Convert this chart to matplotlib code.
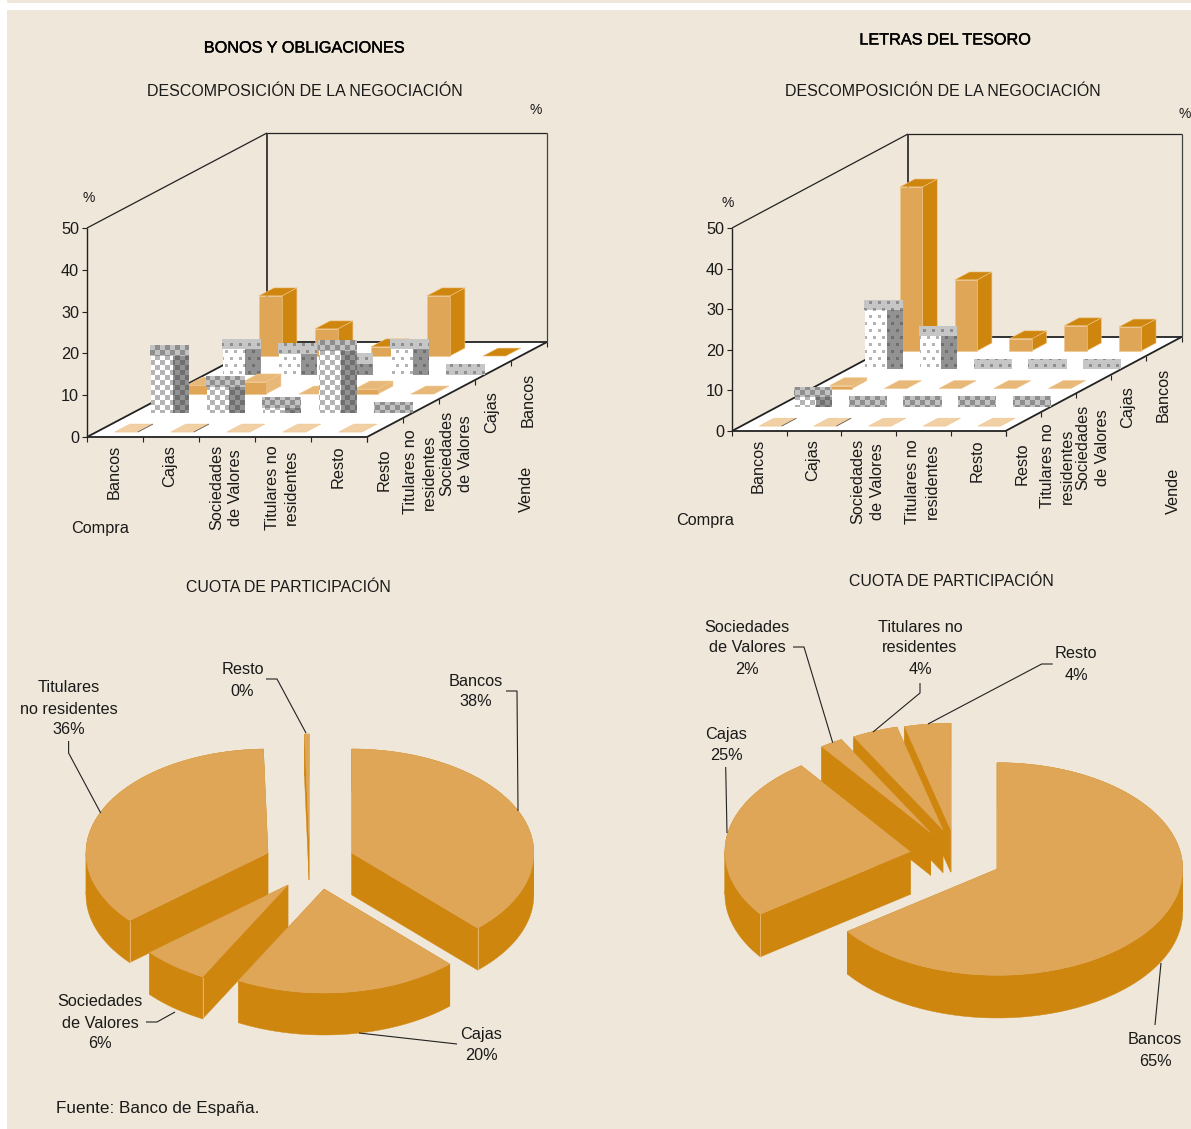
import numpy as np
import matplotlib
matplotlib.use('Agg')
import matplotlib.pyplot as plt
import matplotlib.patheffects as pe
from matplotlib.patches import Polygon, Rectangle

plt.rcParams['font.family'] = ['Liberation Sans', 'DejaVu Sans']

compra = ['Bancos', 'Cajas', 'Sociedades\nde Valores', 'Titulares no\nresidentes', 'Resto']
vende = ['Resto', 'Titulares no\nresidentes', 'Sociedades\nde Valores', 'Cajas', 'Bancos']
y_ticks = [0, 10, 20, 30, 40, 50]

# negociacion, one list per selling sector, same order as compra
bonos_resto = [0, 0, 0, 0, 0]
bonos_titulares = [13.6, 6.2, 1.2, 14.8, 0]
bonos_sociedades = [2.1, 2.9, 0, 1.2, 0]
bonos_cajas = [6.0, 5.0, 2.6, 6.0, 0]
bonos_bancos = [14.4, 6.5, 2.2, 14.4, 0]

letras_resto = [0, 0, 0, 0, 0]
letras_titulares = [2.4, 0, 0, 0, 0]
letras_sociedades = [0.7, 0, 0, 0, 0]
letras_cajas = [14.5, 8.1, 0, 0, 0]
letras_bancos = [40.4, 17.5, 3.0, 6.2, 5.9]

# cuota de participacion
bonos_cuota = [38, 20, 6, 36, 0.4]
letras_cuota = [65, 25, 2, 4, 4]

BG = '#efe7d9'
NAR = '#dfa658'
NAR_OSC = '#cf860f'
NAR_MED = '#e8b878'
NAR_PAL = '#f0d0a4'
TXT = '#1a1a1a'
FS = 11.7

fig = plt.figure(figsize=(11.91, 11.29), dpi=100, facecolor='white')
ax = fig.add_axes([0, 0, 1, 1])
ax.axis('off')

z_now = [1]


def nz():
    z_now[0] += 1
    return z_now[0]


def texto(x, y, s, **kw):
    kw.setdefault('ha', 'center')
    kw.setdefault('va', 'center')
    kw.setdefault('color', TXT)
    kw.setdefault('fontsize', FS)
    return ax.text(x, y, s, zorder=5000, **kw)


def linea(xs, ys, lw=0.8, color='#222222', z=None):
    ax.plot(xs, ys, lw=lw, color=color, zorder=z if z else nz(), solid_capstyle='butt')


def trama(x0, y0, x1, y1, tipo, fg, bg):
    # pattern fill for the grey bars, tiled on whole pixels
    xi = np.arange(int(x0), int(x1))
    yi = np.arange(int(y0), int(y1))
    if len(xi) == 0 or len(yi) == 0:
        return
    X, Y = np.meshgrid(xi, yi)
    if tipo == 'ajedrez':
        m = ((X // 5 + Y // 5) % 2) == 0
    else:
        par = (Y // 7) % 2
        m = (((X + 4 * par) % 9) < 3) & ((Y % 7) < 3)
    img = np.zeros(X.shape + (3,))
    img[m] = matplotlib.colors.to_rgb(fg)
    img[~m] = matplotlib.colors.to_rgb(bg)
    ax.imshow(img, extent=(int(x0), int(x1), int(y1), int(y0)), interpolation='bilinear',
              aspect='auto', zorder=nz())


def barra_naranja(x0, base, alto, w, fx, fy, frente, lado, tapa):
    arriba = base - alto
    borde = '#efc58a'
    if alto > 0:
        ax.add_patch(Polygon([(x0 + w, base), (x0 + w + fx, base - fy), (x0 + w + fx, arriba - fy), (x0 + w, arriba)],
                             fc=lado, ec=borde, lw=0.4, zorder=nz()))
        ax.add_patch(Rectangle((x0, arriba), w, alto, fc=frente, ec=borde, lw=0.4, zorder=nz()))
    ax.add_patch(Polygon([(x0, arriba), (x0 + w, arriba), (x0 + w + fx, arriba - fy), (x0 + fx, arriba - fy)],
                         fc=tapa, ec=borde, lw=0.4, zorder=nz()))


def barra_trama(x0, base, alto, w, fx, tipo):
    arriba = base - alto
    if alto > 0:
        trama(x0 + 1, arriba, x0 + w, base, tipo, '#b4b4b4', '#ffffff')
        trama(x0 + w, arriba, x0 + w + fx + 1, base, tipo, '#6f6f6f', '#929292')
    if tipo == 'ajedrez':
        trama(x0, arriba - 10.5, x0 + w + fx + 1, arriba, tipo, '#8e8e8e', '#c2c2c2')
    else:
        trama(x0, arriba - 10.5, x0 + w + fx + 1, arriba, tipo, '#8e8e8e', '#c6c6c6')


def barras3d(ox, oy, cw, dx, dy, zs, filas, top_pct, back_pct):
    ancho = cw * 5
    fx5, fy5 = dx * 5, dy * 5
    alto = zs * 50
    # floor
    ax.add_patch(Polygon([(ox, oy), (ox + ancho, oy), (ox + ancho + fx5, oy - fy5), (ox + fx5, oy - fy5)],
                         fc='white', ec='none', zorder=nz()))
    # walls
    linea([ox, ox], [oy, oy - alto], 1.0)
    linea([ox, ox + fx5], [oy - alto, oy - fy5 - alto], 0.9)
    linea([ox + fx5, ox + fx5 + ancho], [oy - fy5 - alto, oy - fy5 - alto], 0.9)
    linea([ox + fx5 + ancho] * 2, [oy - fy5 - alto, oy - fy5], 0.9, '#444444')
    linea([ox + fx5] * 2, [oy - fy5 - alto, oy - fy5], 1.2)
    linea([ox + fx5, ox + fx5 + ancho], [oy - fy5, oy - fy5], 1.3)
    linea([ox, ox + fx5], [oy, oy - fy5], 1.3)
    linea([ox + ancho, ox + fx5 + ancho], [oy, oy - fy5], 1.3)
    linea([ox, ox + ancho], [oy, oy], 1.3)

    # ticks and labels
    for v in y_ticks:
        yy = oy - v * zs
        linea([ox - 5, ox], [yy, yy], 0.8)
        texto(ox - 8, yy + 1.5, str(v), ha='right')
    for k in range(6):
        linea([ox + k * cw] * 2, [oy, oy + 5], 0.8)
    for r in range(6):
        linea([ox + ancho + r * dx] * 2, [oy - r * dy, oy - r * dy + 5], 0.8)
    for k, nom in enumerate(compra):
        texto(ox + (k + 0.5) * cw - 1, oy + 8, nom, rotation=90, va='top', multialignment='center',
              linespacing=1.35)
    for r, nom in enumerate(vende):
        texto(ox + ancho + (r + 0.5) * dx - 1, oy - (r + 0.5) * dy + 21, nom, rotation=90, va='top',
              multialignment='center', linespacing=1.35)

    # bars, back row first
    w = 0.41 * cw
    fx = 0.42 * dx
    fy = 0.42 * dy
    for r in range(4, -1, -1):
        for k in range(5):
            x0 = ox + (k + 0.33) * cw + (r + 0.26) * dx
            base = oy - (r + 0.26) * dy
            h = filas[r][k] * zs
            if r == 4:
                barra_naranja(x0, base, h, w, fx, fy, NAR, NAR_OSC, NAR_OSC)
            elif r == 3:
                barra_trama(x0, base, h, w, fx, 'puntos')
            elif r == 2:
                barra_naranja(x0, base, h, w, fx, fy, NAR, NAR_MED, NAR_MED)
            elif r == 1:
                barra_trama(x0, base, h, w, fx, 'ajedrez')
            else:
                barra_naranja(x0, base, h, w, fx, fy, NAR, NAR_PAL, NAR_PAL)
                if k < 2:
                    linea([x0 + w, x0 + w + fx], [base, base - fy], 0.6, '#6b6258')

    texto(top_pct[0], top_pct[1], '%', fontsize=10)
    texto(back_pct[0], back_pct[1], '%', fontsize=10)


def tarta(valores, apices, rx, ry, grosor, etiquetas, guias):
    frac = np.array(valores, dtype=float) / np.sum(valores)
    fin = np.cumsum(frac) * 360
    ini = fin - frac * 360
    orden = np.argsort([a[1] for a in apices], kind='stable')
    for i in orden:
        cx, cy = apices[i]
        t = np.radians(np.linspace(ini[i], fin[i], 90))
        px = cx + rx * np.sin(t)
        py = cy - ry * np.cos(t)
        # the two cut faces, pushed down by the thickness
        for xb, yb in [(px[0], py[0]), (px[-1], py[-1])]:
            ax.add_patch(Polygon([(cx, cy), (xb, yb), (xb, yb + grosor), (cx, cy + grosor)],
                                 fc=NAR_OSC, ec=NAR_OSC, lw=0.3, zorder=nz()))
        # rim, cut at the widest points of the ellipse so each piece runs one way in x
        cortes = [ini[i]] + [c for c in (90, 270) if ini[i] < c < fin[i]] + [fin[i]]
        for a, b in zip(cortes[:-1], cortes[1:]):
            tt = np.radians(np.linspace(a, b, 60))
            qx = cx + rx * np.sin(tt)
            qy = cy - ry * np.cos(tt)
            ax.add_patch(Polygon(np.r_[np.c_[qx, qy], np.c_[qx[::-1], qy[::-1] + grosor]],
                                 fc=NAR_OSC, ec=NAR_OSC, lw=0.3, zorder=nz()))
        ax.add_patch(Polygon(np.r_[[(cx, cy)], np.c_[px, py]], fc=NAR, ec=NAR, lw=0.3, zorder=nz()))
        # light edge where a cut face meets the rim
        if 180 < ini[i] < 270:
            linea([px[0]] * 2, [py[0], py[0] + grosor], 0.5, '#efc58a')
        if 90 < fin[i] < 180:
            linea([px[-1]] * 2, [py[-1], py[-1] + grosor], 0.5, '#efc58a')
    for i, (nom, x, y) in enumerate(etiquetas):
        lineas = nom.split('\n') + ['%d%%' % round(valores[i])]
        for j, s in enumerate(lineas):
            texto(x, y + 1 + j * 21, s)
    for xs, ys in guias:
        linea(xs, ys, 0.8, '#222222', z=4000)


# page background
ax.add_patch(Rectangle((7, 0), 1184, 3, fc=BG, ec='none', zorder=1))
ax.add_patch(Rectangle((7, 10), 1184, 1119, fc=BG, ec='none', zorder=1))

# bonos
barras3d(87, 437, 56, 36, 19, 4.18, [bonos_resto, bonos_titulares, bonos_sociedades, bonos_cajas, bonos_bancos],
         (89, 198), (536, 110))
texto(100, 528, 'Compra')
texto(526, 489, 'Vende', rotation=90)

# letras
barras3d(732, 431, 54.7, 35.2, 18.8, 4.06, [letras_resto, letras_titulares, letras_sociedades, letras_cajas, letras_bancos],
         (728, 203), (1185, 114))
texto(705, 520, 'Compra')
texto(1173, 491, 'Vende', rotation=90)

negro = [pe.withStroke(linewidth=0.3, foreground='black')]
texto(304.5, 48, 'BONOS Y OBLIGACIONES', path_effects=negro, color='black')
texto(945.5, 40, 'LETRAS DEL TESORO', path_effects=negro, color='black')
texto(304.5, 91, 'DESCOMPOSICIÓN DE LA NEGOCIACIÓN', fontsize=11.55)
texto(942.5, 91, 'DESCOMPOSICIÓN DE LA NEGOCIACIÓN', fontsize=11.55)
texto(288, 587, 'CUOTA DE PARTICIPACIÓN', fontsize=11.4)
texto(951.5, 582, 'CUOTA DE PARTICIPACIÓN', fontsize=11.4)
texto(56, 1108, 'Fuente: Banco de España.', ha='left', fontsize=12.3)

tarta(bonos_cuota,
      [(351.8, 853), (324, 889), (288, 885), (268, 853), (309, 838)], 182, 104, 42,
      [('Bancos', 476, 680), ('Cajas', 481, 1034), ('Sociedades\nde Valores', 100, 1001),
       ('Titulares\nno residentes', 68.5, 687), ('Resto', 242.5, 669)],
      [([506, 517, 518], [691, 691, 811]),
       ([359, 457], [1033, 1044]),
       ([146, 157, 175], [1022, 1022, 1012]),
       ([68.6, 68.6, 100.7], [741, 753, 813]),
       ([266, 277, 306], [679, 679, 733])])

tarta(letras_cuota,
      [(997.3, 869), (910.3, 851.7), (930.7, 832.7), (943, 830), (950.7, 829.6)], 185.4, 106.3, 42.7,
      [('Bancos', 1155, 1039), ('Cajas', 726, 733), ('Sociedades\nde Valores', 747, 626),
       ('Titulares no\nresidentes', 920, 626), ('Resto', 1076, 653)],
      [([1155, 1161], [1025, 963]),
       ([725.7, 727], [767, 833]),
       ([793, 804, 832.7], [647, 647, 742.7]),
       ([920, 920, 873], [683, 693, 732]),
       ([1052.7, 1041.7, 928], [664, 664, 724])])

ax.set_xlim(0, 1191)
ax.set_ylim(1129, 0)
fig.savefig('out.png', dpi=100, facecolor='white')
